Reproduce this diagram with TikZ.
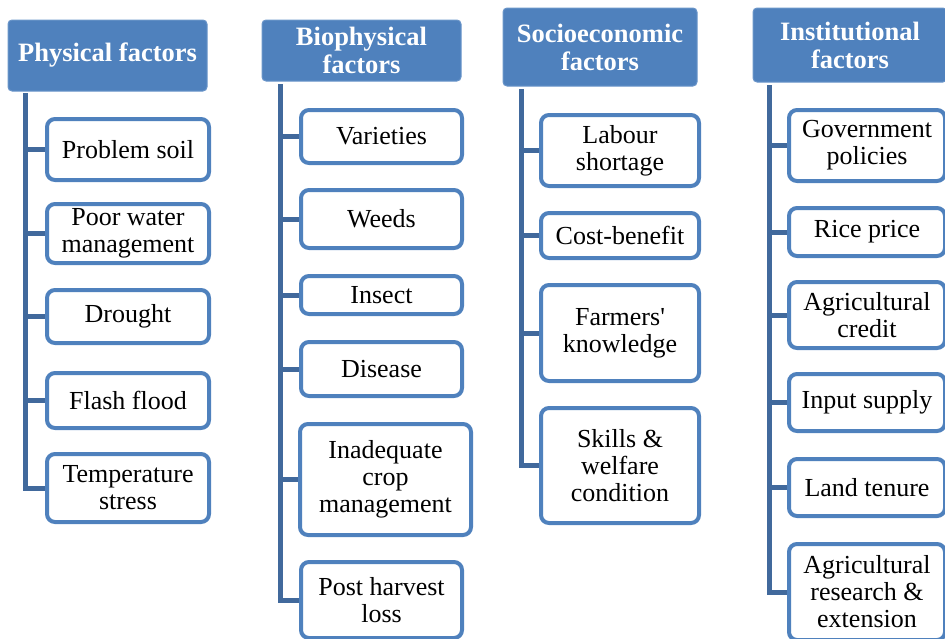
\documentclass[tikz,border=0pt]{standalone}
\usepackage{fontspec}
\setmainfont{Liberation Serif}[Ligatures=TeXOff]
\definecolor{hfill}{HTML}{4F81BD}
\definecolor{hdraw}{HTML}{6A95C9}
\definecolor{cdraw}{HTML}{4F81BD}
\definecolor{conncol}{HTML}{41699C}
\begin{document}
\begin{tikzpicture}[x=1pt,y=-1pt,
  header/.style={draw=hdraw,line width=1pt,fill=hfill,rounded corners=4pt,inner sep=0pt,align=center,
    text=white,font=\fontsize{26.5}{28}\selectfont\bfseries},
  child/.style={draw=cdraw,line width=4pt,fill=white,rounded corners=8pt,inner sep=0pt,align=center,
    font=\fontsize{26}{27}\selectfont},
  conn/.style={draw=conncol,line width=5pt}]
\useasboundingbox (0,0) rectangle (945,638);
% headers
\node[header,minimum width=199pt,minimum height=71pt] (h1) at (107.5,55.5) {Physical factors};
\node[header,minimum width=199pt,minimum height=61pt] (h2) at (361.5,50.5) {Biophysical\\factors};
\node[header,minimum width=194pt,minimum height=78pt] (h3) at (600,47) {Socioeconomic\\factors};
\node[header,minimum width=194pt,minimum height=74pt] (h4) at (850,45) {Institutional\\factors};
% column 1
\coordinate (v1) at (25.5,93);
\node[child,minimum width=162pt,minimum height=61pt] (ps) at (128,149.5) {Problem soil};
\node[child,minimum width=162pt,minimum height=59pt] (pw) at (128,233.5) {Poor water\\management};
\node[child,minimum width=162pt,minimum height=53pt] (dr) at (128,316.5) {Drought};
\node[child,minimum width=162pt,minimum height=55pt] (ff) at (128,400.5) {Flash flood};
\node[child,minimum width=162pt,minimum height=68pt] (ts) at (128,488) {Temperature\\stress};
% column 2
\coordinate (v2) at (280,84);
\node[child,minimum width=161pt,minimum height=53pt] (va) at (381.5,136.5) {Varieties};
\node[child,minimum width=161pt,minimum height=58pt] (we) at (381.5,219) {Weeds};
\node[child,minimum width=161pt,minimum height=38pt] (in) at (381.5,295) {Insect};
\node[child,minimum width=161pt,minimum height=54pt] (di) at (381.5,369) {Disease};
\node[child,minimum width=171pt,minimum height=111pt] (ic) at (385.5,479.5) {Inadequate\\crop\\management};
\node[child,minimum width=161pt,minimum height=76pt] (ph) at (381.5,600) {Post harvest\\loss};
% column 3
\coordinate (v3) at (521,89);
\node[child,minimum width=158pt,minimum height=71pt] (ls) at (620,150.5) {Labour\\shortage};
\node[child,minimum width=158pt,minimum height=45pt] (cb) at (620,235.5) {Cost-benefit};
\node[child,minimum width=158pt,minimum height=96pt] (fk) at (620,333) {Farmers'\\knowledge};
\node[child,minimum width=158pt,minimum height=115pt] (sw) at (620,465.5) {Skills \&\\welfare\\condition};
% column 4
\coordinate (v4) at (769,85);
\node[child,minimum width=156pt,minimum height=71pt] (gp) at (867,145.5) {Government\\policies};
\node[child,minimum width=156pt,minimum height=48pt] (rp) at (867,232) {Rice price};
\node[child,minimum width=156pt,minimum height=66pt] (ac) at (867,315) {Agricultural\\credit};
\node[child,minimum width=156pt,minimum height=57pt] (is) at (867,402.5) {Input supply};
\node[child,minimum width=156pt,minimum height=57pt] (lt) at (867,487.5) {Land tenure};
\node[child,minimum width=156pt,minimum height=96pt] (ar) at (867,592) {Agricultural\\research \&\\extension};
% connectors
\draw[conn] (v1) |- (ts.west);
\foreach \n in {ps,pw,dr,ff} \draw[conn] (v1 |- \n.west) -- (\n.west);
\draw[conn] (v2) |- (ph.west);
\foreach \n in {va,we,in,di,ic} \draw[conn] (v2 |- \n.west) -- (\n.west);
\draw[conn] (v3) |- (sw.west);
\foreach \n in {ls,cb,fk} \draw[conn] (v3 |- \n.west) -- (\n.west);
\draw[conn] (v4) |- (ar.west);
\foreach \n in {gp,rp,ac,is,lt} \draw[conn] (v4 |- \n.west) -- (\n.west);
\end{tikzpicture}
\end{document}
